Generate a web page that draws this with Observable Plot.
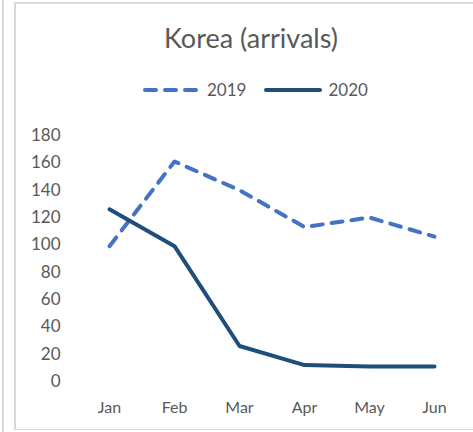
<!DOCTYPE html>
<html>
<head>
<meta charset="utf-8">
<script src="https://cdn.jsdelivr.net/npm/d3@7"></script>
<script src="https://cdn.jsdelivr.net/npm/@observablehq/plot@0.6"></script>
<style>
  html, body { margin: 0; padding: 0; background: #fff; overflow: hidden; }
  #wrap { position: relative; width: 473px; height: 432px; overflow: hidden; font-family: Lato, "Open Sans", sans-serif; color: #595959; }
  .rule { position: absolute; background: #d9d9d9; }
  #title { position: absolute; left: 0; width: 502px; top: 21px; text-align: center; font-size: 27px; }
  #legend { position: absolute; top: 79px; left: 143px; display: flex; align-items: center; font-size: 17px; }
  #legend .item { display: flex; align-items: center; margin-right: 18px; }
  #legend svg { margin-right: 6px; }
  #chart { position: absolute; left: 0; top: 110px; }
</style>
</head>
<body>
<div id="wrap">
  <div class="rule" style="left:2px;top:0;width:1.5px;height:432px"></div>
  <div class="rule" style="left:14px;top:2px;width:1.5px;height:428px"></div>
  <div class="rule" style="left:14px;top:2px;width:459px;height:1.5px"></div>
  <div class="rule" style="left:14px;top:428.5px;width:459px;height:1.5px"></div>
  <div id="title">Korea (arrivals)</div>
  <div id="legend"></div>
  <div id="chart"></div>
</div>
<script>
const months = ["Jan", "Feb", "Mar", "Apr", "May", "Jun"];
const arrivals2019 = [99, 161, 140, 113, 120, 106];
const arrivals2020 = [126, 99, 26, 12, 11, 11];
const seriesNames = ["2019", "2020"];
const seriesColors = ["#4472C4", "#1F4E79"];
const yTicks = [0, 20, 40, 60, 80, 100, 120, 140, 160, 180];

const data = [];
months.forEach((m, i) => {
  data.push({month: m, value: arrivals2019[i], series: seriesNames[0]});
  data.push({month: m, value: arrivals2020[i], series: seriesNames[1]});
});

const dash = "11,9";

// legend
const legend = document.getElementById("legend");
seriesNames.forEach((s, i) => {
  const item = document.createElement("div");
  item.className = "item";
  const w = 58;
  item.innerHTML = `<svg width="${w}" height="8"><line x1="2" x2="${w-2}" y1="4" y2="4" stroke="${seriesColors[i]}" stroke-width="4" stroke-linecap="round" ${i === 0 ? `stroke-dasharray="${dash}"` : ""}/></svg><span>${s}</span>`;
  legend.appendChild(item);
});

const chart = Plot.plot({
  width: 473,
  height: 322,
  marginLeft: 76,
  marginRight: 7,
  marginTop: 25,
  marginBottom: 51,
  style: {fontFamily: "Lato, 'Open Sans', sans-serif", fontSize: "16px", color: "#595959", background: "transparent"},
  x: {type: "point", domain: months, padding: 0.5, label: null, tickSize: 0, tickPadding: 20},
  y: {domain: [0, 180], ticks: yTicks, label: null, tickSize: 0, tickPadding: 16},
  marks: [
    Plot.gridY(yTicks, {stroke: "#d9d9d9", strokeOpacity: 1, strokeWidth: 1.5, x1: 76, x2: 466}),
    Plot.axisY(yTicks, {tickSize: 0, tickPadding: 16, fill: "#595959", fontSize: 17}),
    Plot.axisX(months, {tickSize: 0, tickPadding: 20, fill: "#595959", fontSize: 16}),
    Plot.line(data.filter(d => d.series === "2019"), {x: "month", y: "value", stroke: seriesColors[0], strokeWidth: 4, strokeDasharray: dash, strokeLinecap: "round", strokeLinejoin: "round"}),
    Plot.line(data.filter(d => d.series === "2020"), {x: "month", y: "value", stroke: seriesColors[1], strokeWidth: 4, strokeLinecap: "round", strokeLinejoin: "round"})
  ]
});
document.getElementById("chart").appendChild(chart);
</script>
</body>
</html>
